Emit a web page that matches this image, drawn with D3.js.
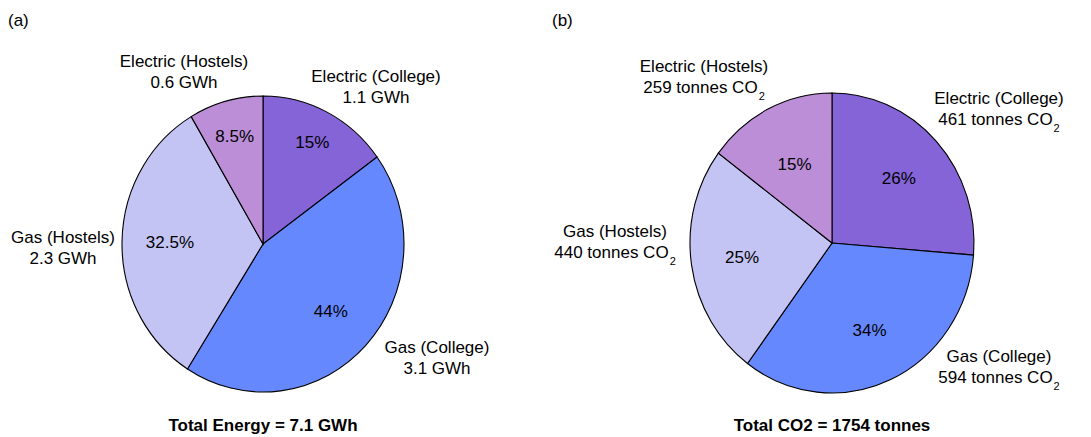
<!DOCTYPE html>
<html>
<head>
<meta charset="utf-8">
<script src="https://cdn.jsdelivr.net/npm/d3@7"></script>
<style>
  html, body { margin: 0; padding: 0; background: #fff; }
  svg { display: block; font-family: "Liberation Sans", Arial, sans-serif; }
</style>
</head>
<body>
<svg id="chart" width="1091" height="437"></svg>
<script>
// Slice categories, clockwise from 12 o'clock
const categories = ["Electric (College)", "Gas (College)", "Gas (Hostels)", "Electric (Hostels)"];

// Panel (a): annual energy use
const energyGWh = [1.1, 3.1, 2.3, 0.6];
const energyShare = [15, 44, 32.5, 8.5];
const energyShareLabels = ["15%", "44%", "32.5%", "8.5%"];
const energyTotal = "Total Energy = 7.1 GWh";

// Panel (b): associated emissions
const co2Tonnes = [461, 594, 440, 259];
const co2ShareLabels = ["26%", "34%", "25%", "15%"];
const co2Total = "Total CO2 = 1754 tonnes";

const sliceColors = ["#8464D6", "#6688FF", "#C4C4F4", "#BC8ED8"];

const svg = d3.select("#chart");

function drawPanel(cfg) {
  const g = svg.append("g").attr("transform", `translate(${cfg.cx},${cfg.cy})`);
  const pie = d3.pie().sort(null).value(d => d);
  const arcs = pie(cfg.values);
  const arc = d3.arc().innerRadius(0).outerRadius(cfg.rx);

  // pie is slightly taller than wide
  const pieG = g.append("g").attr("transform", `scale(1,${cfg.ry / cfg.rx})`);
  pieG.selectAll("path")
    .data(arcs)
    .join("path")
    .attr("d", arc)
    .attr("fill", (d, i) => sliceColors[i])
    .attr("stroke", "#000")
    .attr("stroke-width", 1.1)
    .attr("vector-effect", "non-scaling-stroke");

  // percentage labels inside slices
  g.selectAll("text.pct")
    .data(arcs)
    .join("text")
    .attr("class", "pct")
    .attr("text-anchor", "middle")
    .attr("font-size", 17)
    .attr("fill", "#000")
    .attr("x", (d, i) => Math.sin((d.startAngle + d.endAngle) / 2) * cfg.rx * cfg.pctRadius[i])
    .attr("y", (d, i) => -Math.cos((d.startAngle + d.endAngle) / 2) * cfg.ry * cfg.pctRadius[i] + 6)
    .text((d, i) => cfg.pctLabels[i]);

  // category labels outside the pie
  categories.forEach((name, i) => {
    const [lx, ly] = cfg.labelPos[i];
    const t = g.append("text")
      .attr("text-anchor", "middle")
      .attr("font-size", 17)
      .attr("fill", "#000");
    t.append("tspan").attr("x", lx).attr("y", ly).text(name);
    t.append("tspan").attr("x", lx).attr("y", ly + 21).text(cfg.valueText(cfg.amounts[i]));
    if (cfg.subscript) {
      t.append("tspan").attr("font-size", 11).attr("dx", 1).attr("dy", 7).text("2");
    }
  });

  // panel letter and total
  svg.append("text")
    .attr("x", cfg.letterX).attr("y", 26)
    .attr("font-size", 17)
    .text(cfg.letter);
  svg.append("text")
    .attr("x", cfg.cx).attr("y", 431)
    .attr("text-anchor", "middle")
    .attr("font-size", 17)
    .attr("font-weight", "bold")
    .text(cfg.total);
}

drawPanel({
  cx: 263, cy: 244, rx: 141, ry: 148,
  values: energyShare,
  amounts: energyGWh,
  pctLabels: energyShareLabels,
  pctRadius: [0.77, 0.66, 0.66, 0.76],
  labelPos: [[113, -162], [174, 109], [-200, -1], [-79, -177]],
  valueText: v => `${v.toFixed(1)} GWh`,
  letter: "(a)", letterX: 8,
  total: energyTotal
});

drawPanel({
  cx: 832, cy: 243, rx: 142, ry: 150,
  values: co2Tonnes,
  amounts: co2Tonnes,
  pctLabels: co2ShareLabels,
  pctRadius: [0.64, 0.64, 0.64, 0.59],
  labelPos: [[167, -139], [167, 119], [-217, -6], [-128, -171]],
  valueText: v => `${v} tonnes CO`,
  subscript: true,
  letter: "(b)", letterX: 552,
  total: co2Total
});
</script>
</body>
</html>
